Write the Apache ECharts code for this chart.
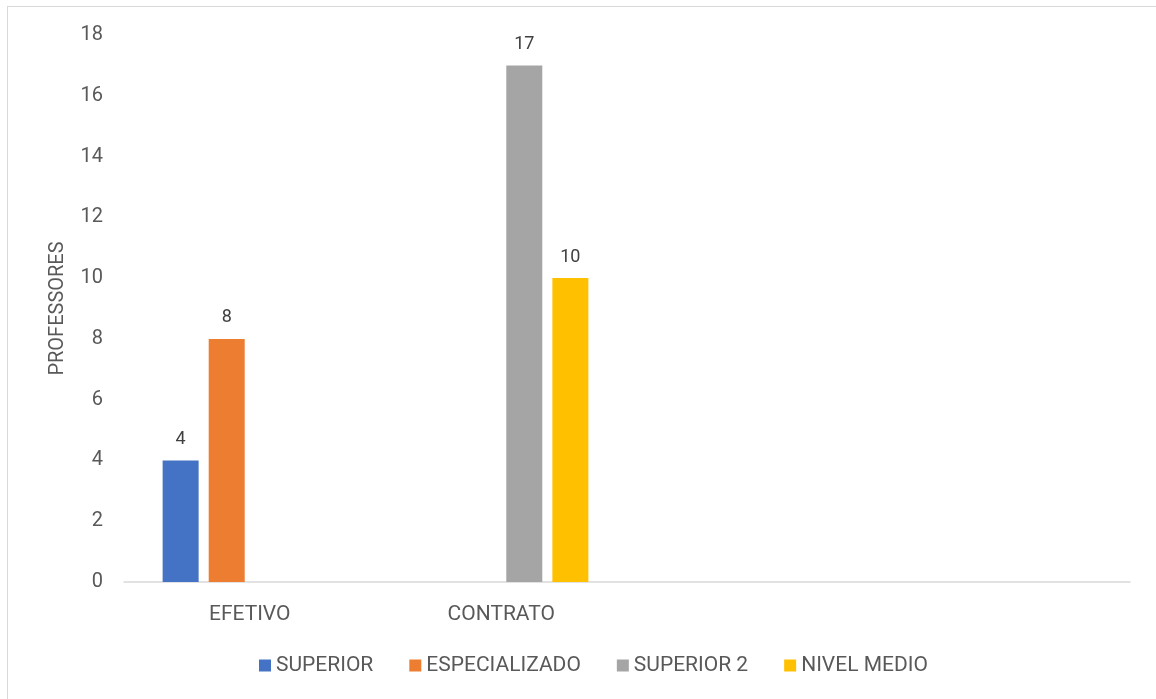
<!DOCTYPE html>
<html>
<head>
<meta charset="utf-8">
<script src="https://cdn.jsdelivr.net/npm/echarts@6/dist/echarts.min.js"></script>
<style>
  html, body { margin: 0; padding: 0; background: #fff; }
  #frame { position: absolute; left: 7px; top: 6px; width: 1160px; height: 700px;
           border-left: 1px solid #d9d9d9; border-top: 1px solid #d9d9d9; }
  #chart { position: absolute; left: 0; top: 0; width: 1156px; height: 699px; }
</style>
</head>
<body>
<div id="frame"></div>
<div id="chart"></div>
<script>
  // categories (two trailing empty ones, as in the original sheet)
  const categories = ['EFETIVO', 'CONTRATO', '', ''];
  const seriesNames = ['SUPERIOR', 'ESPECIALIZADO', 'SUPERIOR 2', 'NIVEL MEDIO'];
  const superior = [4, null, null, null];
  const especializado = [8, null, null, null];
  const superior2 = [null, 17, null, null];
  const nivelMedio = [null, 10, null, null];
  const colors = ['#4472C4', '#ED7D31', '#A5A5A5', '#FFC000'];

  const font = 'Roboto';
  const values = [superior, especializado, superior2, nivelMedio];

  let chart = echarts.init(document.getElementById('chart'));
  let option = {
    color: colors,
    textStyle: { fontFamily: font },
    legend: {
      bottom: 18,
      left: 254,
      itemWidth: 12,
      itemHeight: 12,
      itemGap: 36,
      icon: 'rect',
      textStyle: { fontSize: 21, color: '#595959', fontFamily: font },
      data: seriesNames
    },
    grid: { left: 124, right: 26, top: 35, bottom: 117 },
    xAxis: {
      type: 'category',
      data: categories,
      axisLine: { lineStyle: { color: '#d9d9d9', width: 1.5 } },
      axisTick: { show: false },
      axisLabel: { fontSize: 21, color: '#595959', margin: 22 }
    },
    yAxis: {
      type: 'value',
      min: 0,
      max: 18,
      interval: 2,
      name: 'PROFESSORES',
      nameLocation: 'middle',
      nameGap: 56,
      nameTextStyle: { fontSize: 20, color: '#595959' },
      axisLine: { show: false },
      axisTick: { show: false },
      splitLine: { show: false },
      axisLabel: { fontSize: 20, color: '#595959', margin: 21 }
    },
    series: seriesNames.map((name, i) => ({
      name: name,
      type: 'bar',
      data: values[i],
      barWidth: 36,
      barGap: '28%',
      label: {
        show: true,
        position: 'top',
        distance: 12,
        fontSize: 18,
        color: '#404040'
      }
    }))
  };
  chart.setOption(option);
</script>
</body>
</html>
